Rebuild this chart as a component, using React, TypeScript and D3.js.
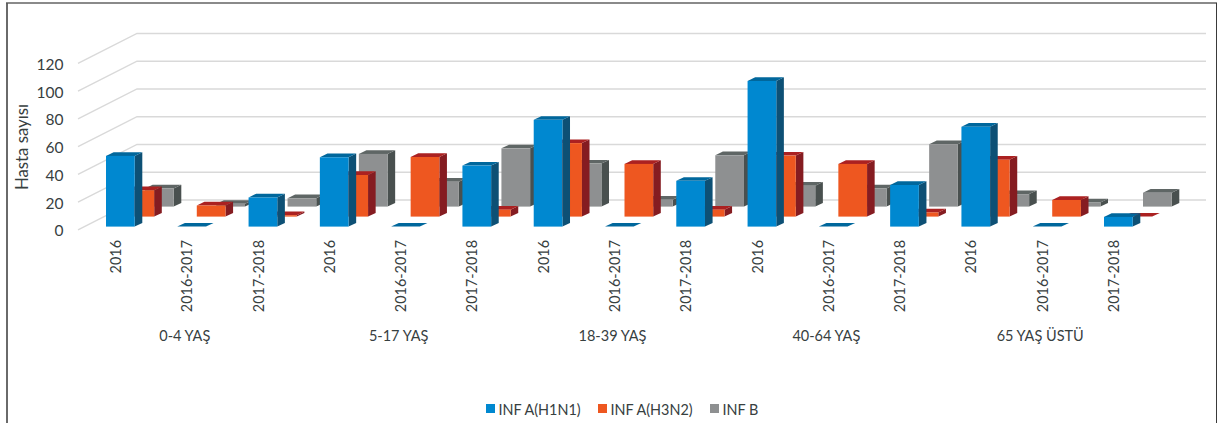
import React from "react";
import * as d3 from "d3";

const WIDTH = 1217;
const HEIGHT = 423;

const ageGroups = ["0-4 YAŞ", "5-17 YAŞ", "18-39 YAŞ", "40-64 YAŞ", "65 YAŞ ÜSTÜ"];
const seasons = ["2016", "2016-2017", "2017-2018"];
const seriesNames = ["INF A(H1N1)", "INF A(H3N2)", "INF B"];
const yTicks = [0, 20, 40, 60, 80, 100, 120];

const h1n1 = [51, 0, 21, 50, 0, 44, 77, 0, 33, 105, 0, 30, 72, 0, 7];
const h3n2 = [19, 8, 1, 30, 43, 5, 53, 38, 5, 44, 38, 3, 41, 12, 0];
const infB = [13, 2, 6, 38, 18, 42, 31, 5, 37, 15, 13, 45, 9, 3, 10];

const frontColors = ["#0088d0", "#ee5720", "#8e9091"];
const sideColors = ["#0d5075", "#851c21", "#49504f"];
const topColors = ["#00679c", "#ab2121", "#5f6665"];

const labelColor = "#37403f";
const gridColor = "#d9d9d9";
const fontFamily = "Lato, 'Open Sans', sans-serif";

const categoryLabels = ageGroups.flatMap((_, g) => seasons.map((s) => ({ g, s })));

// Plot scales: category slot to left edge, value to height above the floor.
const xSlot = d3.scaleLinear().domain([0, 14]).range([106, 1104]);
const heightOf = d3.scaleLinear().domain([0, 120]).range([0, 166.4]);
const barWidth = 28.7;

// Oblique projection: each series row sits further back, and bars have depth.
const rowBase = d3.scaleOrdinal<number, number>().domain([0, 1, 2]).range([226.6, 216.6, 206.6]);
const rowShift = d3.scaleOrdinal<number, number>().domain([0, 1, 2]).range([0, 19.5, 39]);
const depthX = 7.6;
const depthY = 3.7;

const gridFrontX = 78;
const gridBackX = 137;
const gridRightX = 1206;
const gridFront = d3.scaleLinear().domain([0, 120]).range([229.8, 63.4]);
const gridBack = d3.scaleLinear().domain([0, 120]).range([200, 33.5]);

function Bar({ series, slot, value }: { series: number; slot: number; value: number }) {
  const x0 = xSlot(slot) + rowShift(series);
  const x1 = x0 + barWidth;
  const base = rowBase(series);
  const top = base - heightOf(value);
  const poly = (pts: number[][]) => pts.map((p) => p.join(",")).join(" ");
  return (
    <g>
      <polygon
        points={poly([[x1, base], [x1 + depthX, base - depthY], [x1 + depthX, top - depthY], [x1, top]])}
        fill={sideColors[series]}
      />
      <polygon
        points={poly([[x0, top], [x1, top], [x1 + depthX, top - depthY], [x0 + depthX, top - depthY]])}
        fill={topColors[series]}
      />
      {value > 0 && <rect x={x0} y={top} width={barWidth} height={base - top} fill={frontColors[series]} />}
    </g>
  );
}

export default function App() {
  const rows = [h1n1, h3n2, infB];
  return (
    <svg
      width={WIDTH}
      height={HEIGHT}
      style={{ position: "absolute", left: 0, top: 0, background: "#fff" }}
      fontFamily={fontFamily}
    >
      {/* Frame */}
      <line x1={6} y1={3} x2={WIDTH} y2={3} stroke="#8a8a8a" strokeWidth={2} />
      <line x1={7} y1={3} x2={7} y2={HEIGHT} stroke="#5a5a5a" strokeWidth={1.8} />
      <line x1={1216.5} y1={3} x2={1216.5} y2={HEIGHT} stroke="#3a3a3a" strokeWidth={1} />

      {/* Wall and side gridlines */}
      {yTicks.map((t) => (
        <g key={t}>
          <polyline
            points={`${gridFrontX},${gridFront(t)} ${gridBackX},${gridBack(t)} ${gridRightX},${gridBack(t)}`}
            fill="none"
            stroke={gridColor}
            strokeWidth={1.4}
          />
          <text x={63.5} y={gridFront(t) + 6.6} fontSize={15.5} textAnchor="end" fill={labelColor}>
            {t}
          </text>
        </g>
      ))}

      <text
        transform="translate(28,147) rotate(-90)"
        fontSize={16.8}
        textAnchor="middle"
        fill={labelColor}
      >
        Hasta sayısı
      </text>

      {/* Rear rows are painted first so nearer rows overlap them */}
      {[2, 1, 0].map((series) => (
        <g key={series}>
          {rows[series].map((value, slot) => (
            <Bar key={slot} series={series} slot={slot} value={value} />
          ))}
        </g>
      ))}

      {/* Category axis */}
      {categoryLabels.map((c, i) => (
        <text
          key={i}
          transform={`translate(${xSlot(i) + 15},240) rotate(-90)`}
          fontSize={14.4}
          textAnchor="end"
          fill={labelColor}
        >
          {c.s}
        </text>
      ))}
      {ageGroups.map((g, i) => (
        <text key={g} x={xSlot(i * 3 + 1) + 7.5} y={341} fontSize={14.5} textAnchor="middle" fill={labelColor}>
          {g}
        </text>
      ))}

      {/* Legend */}
      {seriesNames.map((name, i) => {
        const lx = [486, 598, 710][i];
        return (
          <g key={name}>
            <rect x={lx} y={404} width={9} height={9} fill={frontColors[i]} />
            <text x={lx + 12.5} y={415} fontSize={14.4} fill={labelColor}>
              {name}
            </text>
          </g>
        );
      })}
    </svg>
  );
}
